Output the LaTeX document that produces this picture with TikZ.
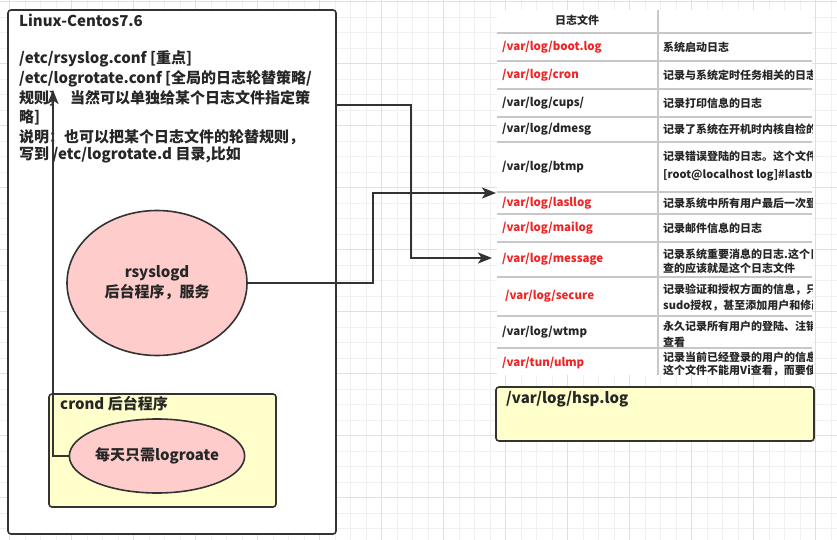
\documentclass[tikz,border=0pt]{standalone}
\usepackage{fontspec}
\setmainfont{Noto Sans CJK SC}
\usetikzlibrary{arrows.meta,shapes.geometric}
\definecolor{gridminor}{HTML}{F0F0F0}
\definecolor{gridmajor}{HTML}{E0E0E0}
\definecolor{edgegray}{HTML}{333333}
\definecolor{pinkfill}{HTML}{FFCCCC}
\definecolor{paleyellow}{HTML}{FFFFCC}
\definecolor{rulegray}{HTML}{C8C8C8}
\definecolor{logred}{HTML}{F02424}
\definecolor{ink}{HTML}{262626}

\tikzset{
  boxframe/.style={draw=edgegray,line width=1.6pt,rounded corners=3pt,inner sep=0pt,outer sep=0pt,anchor=north west},
  blob/.style={ellipse,draw=edgegray,line width=1.6pt,fill=pinkfill,inner sep=0pt,
    font=\bfseries\fontsize{15}{20}\selectfont,text=ink,align=center},
  wire/.style={draw=edgegray,line width=1.8pt,-{Stealth[length=14pt,width=11pt,inset=3.5pt]}},
  headtext/.style={font=\bfseries\fontsize{15}{19}\selectfont,text=ink,anchor=west,inner sep=0pt},
  fname/.style={font=\bfseries\fontsize{11.5}{13}\selectfont,anchor=west,inner sep=0pt},
  hotpath/.style={fname,text=logred},
  coldpath/.style={fname,text=ink},
  celltext/.style={font=\bfseries\fontsize{11}{13}\selectfont,text=ink,anchor=west,inner sep=0pt},
}

\begin{document}
\begin{tikzpicture}[x=1pt,y=-1pt]
\useasboundingbox (0,0) rectangle (837,540);
\fill[white] (0,0) rectangle (837,540);

% background grid
\foreach \i in {-1,...,54} \draw[gridminor,line width=0.8pt] ({9.7+15.5*\i},0) -- ({9.7+15.5*\i},540);
\foreach \j in {0,...,35} \draw[gridminor,line width=0.8pt] (0,{1.7+15.5*\j}) -- (837,{1.7+15.5*\j});
\foreach \i in {0,...,13} \draw[gridmajor,line width=0.8pt] ({9.7+62*\i},0) -- ({9.7+62*\i},540);
\foreach \j in {0,...,8} \draw[gridmajor,line width=0.8pt] (0,{1.7+62*\j}) -- (837,{1.7+62*\j});

% host machine
\node[boxframe,fill=white,minimum width=328,minimum height=524] (host) at (8,10) {};
\node[headtext] (hostname) at (19,20) {Linux-Centos7.6};
\node[headtext] (conf1) at (19,59) {/etc/rsyslog.conf [重点]};
\node[headtext] (conf2) at (19,79) {/etc/logrotate.conf [全局的日志轮替策略/};
\node[headtext] (conf3) at (19,98) {规则]};
\node[headtext] (conf3b) at (70,98) {当然可以单独给某个日志文件指定策};
\node[headtext] (conf4) at (19,117) {略]};
\node[headtext] (note1) at (19,137) {说明：也可以把某个日志文件的轮替规则，};
\node[headtext] (note2) at (19,155) {写到 /etc/logrotate.d 目录,比如};

\node[blob,minimum width=180,minimum height=145] (rsyslogd) at (157,283) {rsyslogd\\后台程序，服务};

\node[boxframe,fill=paleyellow,minimum width=227,minimum height=113] (crond) at (49,394) {};
\node[headtext] (crondlabel) at (60,404) {crond 后台程序};
\node[blob,minimum width=150,minimum height=74] (logroate) at (157,456) {每天只需logroate};

% log file table
\fill[white] (497,10) rectangle (812,375);
\foreach \y in {33,61,89,117,142,192,214,242,277,316,348}
  \draw[rulegray,line width=1.2pt] (497,\y) -- (812,\y);
\draw[rulegray,line width=1.2pt] (658,10) -- (658,375);
\begin{scope}
\clip (497,10) rectangle (812,375);
\node[celltext,anchor=center] (hdr) at (577,20) {日志文件};
\node[hotpath] (p1) at (502,47) {/var/log/boot.log};
\node[hotpath] (p2) at (502,75) {/var/log/cron};
\node[coldpath] (p3) at (502,103) {/var/log/cups/};
\node[coldpath] (p4) at (502,129.5) {/var/log/dmesg};
\node[coldpath] (p5) at (502,167) {/var/log/btmp};
\node[hotpath] (p6) at (502,203.5) {/var/log/lasllog};
\node[hotpath] (p7) at (502,228.5) {/var/log/mailog};
\node[hotpath] (p8) at (502,259.5) {/var/log/message};
\node[hotpath] (p9) at (505,296.5) {/var/log/secure};
\node[coldpath] (p10) at (502,332.5) {/var/log/wtmp};
\node[hotpath] (p11) at (502,363) {/var/tun/ulmp};

\node[celltext] (d1) at (663,47) {系统启动日志};
\node[celltext] (d2) at (663,75) {记录与系统定时任务相关的日志};
\node[celltext] (d3) at (663,103) {记录打印信息的日志};
\node[celltext] (d4) at (663,129.5) {记录了系统在开机时内核自检的};
\node[celltext] (d5a) at (663,156) {记录错误登陆的日志。这个文件};
\node[celltext] (d5b) at (663,175) {[root@localhost log]\#lastb};
\node[celltext] (d6) at (663,203.5) {记录系统中所有用户最后一次登};
\node[celltext] (d7) at (663,228.5) {记录邮件信息的日志};
\node[celltext] (d8a) at (663,254) {记录系统重要消息的日志.这个日};
\node[celltext] (d8b) at (663,268) {查的应该就是这个日志文件};
\node[celltext] (d9a) at (663,290) {记录验证和授权方面的信息，只};
\node[celltext] (d9b) at (663,306) {sudo授权，甚至添加用户和修改};
\node[celltext] (d10a) at (663,326) {永久记录所有用户的登陆、注销};
\node[celltext] (d10b) at (663,342) {查看};
\node[celltext] (d11a) at (663,357) {记录当前已经登录的用户的信息};
\node[celltext] (d11b) at (663,371) {这个文件不能用Vi查看，而要使};
\end{scope}

\node[boxframe,fill=paleyellow,minimum width=318,minimum height=54] (hsp) at (496,387) {};
\node[headtext] (hsplabel) at (506,399) {/var/log/hsp.log};

% connectors
\coordinate (confmark) at (53,90);
\coordinate (lastlogrow) at (496,193);
\coordinate (hostport) at (336,105);
\coordinate (messagerow) at (492,258);
\draw[wire] (logroate.west) -| (confmark);
\draw[wire] (rsyslogd.east) -- ++(125,0) |- (lastlogrow);
\draw[wire] (hostport) -- ++(75,0) |- (messagerow);
\end{tikzpicture}
\end{document}
